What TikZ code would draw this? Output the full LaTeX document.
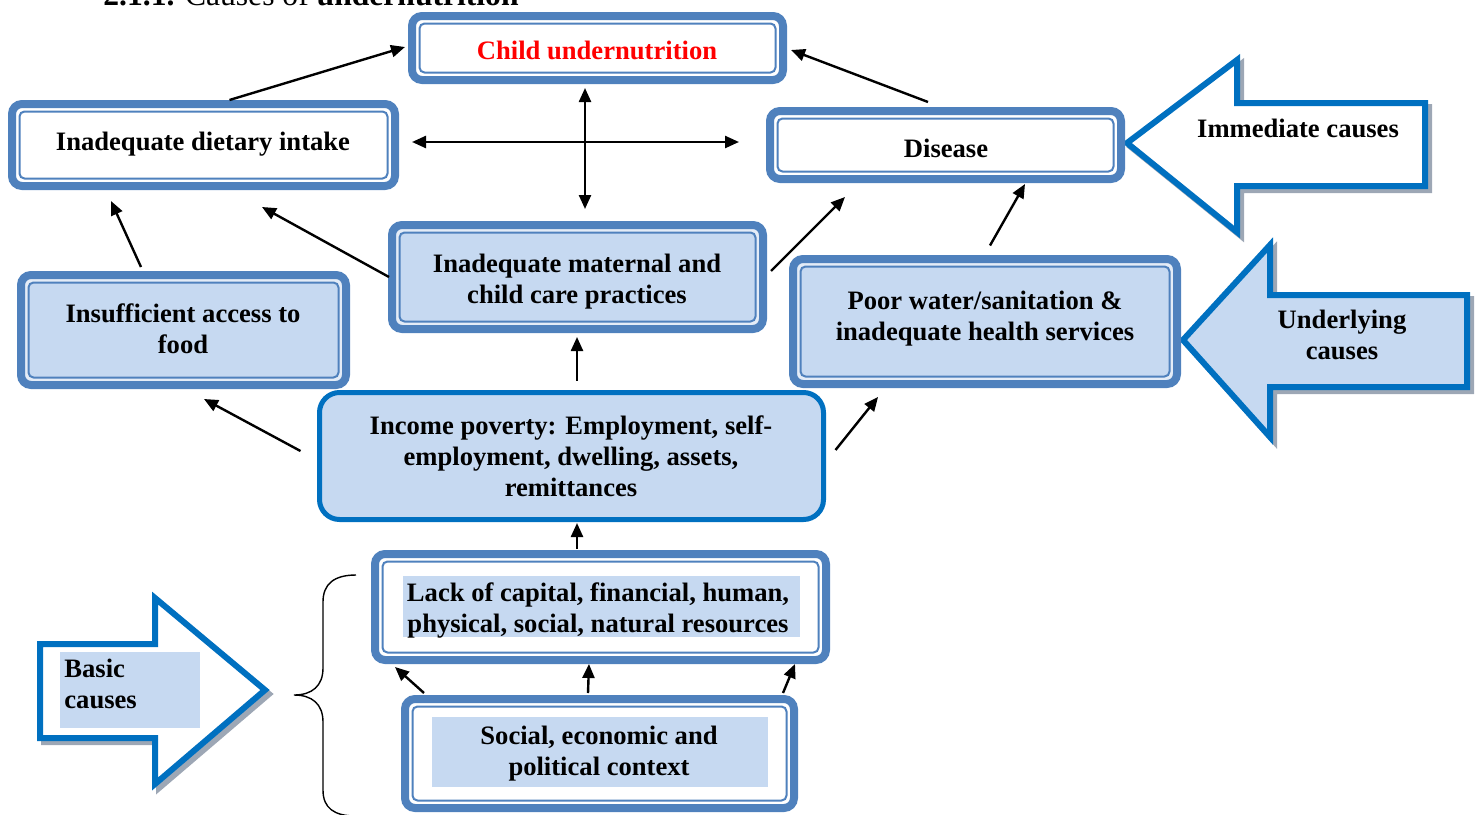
\documentclass[tikz,border=0pt]{standalone}
\usepackage{fontspec}
\setmainfont{Liberation Serif}
\usetikzlibrary{arrows.meta}
\definecolor{boxblue}{HTML}{4F81BD}
\definecolor{lightfill}{HTML}{C6D9F1}
\definecolor{palefill}{HTML}{E4ECF7}
\definecolor{arrowblue}{HTML}{0070C0}
\definecolor{shadowgrey}{HTML}{9DA7B5}
\definecolor{redtext}{HTML}{FF0000}
\begin{document}
\begin{tikzpicture}[x=0.5pt,y=-0.5pt,
  txt/.style={font=\bfseries\fontsize{13.3}{15.5}\selectfont, align=center, inner sep=0pt},
  dbox/.style={draw=boxblue, line width=4pt, rounded corners=5pt, inner sep=0pt},
  inframe/.style={draw=boxblue, line width=1pt, rounded corners=2.5pt, inner sep=0pt},
  arr/.style={line width=1.2pt, -{Triangle[length=7pt,width=6pt]}},
  darr/.style={line width=1.2pt, {Triangle[length=7pt,width=6pt]}-{Triangle[length=7pt,width=6pt]}},
  bigarrow/.style={draw=arrowblue, line width=3pt, line join=miter},
  shadowline/.style={draw=shadowgrey, line width=3pt, line join=miter},
  hilite/.style={fill=lightfill, inner sep=0pt}
]
\useasboundingbox (0,0) rectangle (1477,814);

% heading (cut off at the top of the picture)
\node[anchor=base west, inner sep=0pt, font=\fontsize{15.8}{18}\selectfont] (hdr) at (103,5)
  {\textbf{2.1.1.} Causes of \textbf{undernutrition}};

% big block arrows
\draw[shadowline] (1131,147) -- (1241,64) -- (1241,107) -- (1429,107) -- (1429,190) -- (1241,190) -- (1241,236) -- cycle;
\draw[bigarrow, fill=white] (1127,143) -- (1237,60) -- (1237,103) -- (1425,103) -- (1425,186) -- (1237,186) -- (1237,232) -- cycle;
\node[txt] (imm) at (1298,128) {Immediate causes};

\draw[shadowline] (1187,344) -- (1274,249) -- (1274,299) -- (1471,299) -- (1471,391) -- (1274,391) -- (1274,441) -- cycle;
\draw[bigarrow, fill=lightfill] (1183,340) -- (1270,245) -- (1270,295) -- (1467,295) -- (1467,387) -- (1270,387) -- (1270,437) -- cycle;
\node[txt] (und) at (1342,335) {Underlying\\causes};

\draw[shadowline] (269,694) -- (159,602) -- (159,648) -- (44,648) -- (44,742) -- (159,742) -- (159,788) -- cycle;
\draw[bigarrow, fill=white] (265,690) -- (155,598) -- (155,644) -- (40,644) -- (40,738) -- (155,738) -- (155,784) -- cycle;
\node[hilite, minimum width=70pt, minimum height=38pt] (basbg) at (130,690) {};
\node[txt, align=left, anchor=west] (bas) at (64,684) {Basic\\causes};

% brace
\draw[line width=0.7pt] (356,575) .. controls (334,575) and (323,584) .. (323,602) -- (323,668)
  .. controls (323,686) and (312,695) .. (294,695)
  .. controls (312,695) and (323,704) .. (323,722) -- (323,790)
  .. controls (323,808) and (334,816) .. (356,816);

% boxes: thick outer frame
\node[dbox, fill=white, minimum width=185.5pt, minimum height=32pt] (cu) at (597.5,48) {};
\node[dbox, fill=white, minimum width=191.5pt, minimum height=41pt] (di) at (203.5,145) {};
\node[dbox, fill=white, minimum width=175.5pt, minimum height=34pt] (ds) at (945.5,145) {};
\node[dbox, fill=palefill, minimum width=185.5pt, minimum height=52pt] (mc) at (577.5,277) {};
\node[dbox, fill=palefill, minimum width=162.5pt, minimum height=55pt] (ia) at (183.5,330) {};
\node[dbox, fill=palefill, minimum width=192pt, minimum height=62.5pt] (pw) at (985,321.5) {};
\node[draw=arrowblue, line width=2.5pt, rounded corners=10pt, fill=lightfill, inner sep=0pt,
      minimum width=252pt, minimum height=63.5pt] (ip) at (571.5,456) {};
\node[dbox, fill=white, minimum width=225.5pt, minimum height=53pt] (lc) at (600.5,607) {};
\node[dbox, fill=white, minimum width=194.5pt, minimum height=54.5pt] (se) at (599.5,753.5) {};

% boxes: thin inner frame
\node[inframe, minimum width=178pt, minimum height=24.5pt] (cuin) at (cu.center) {};
\node[inframe, minimum width=184pt, minimum height=33.5pt] (diin) at (di.center) {};
\node[inframe, minimum width=168pt, minimum height=26.5pt] (dsin) at (ds.center) {};
\node[inframe, fill=lightfill, minimum width=178pt, minimum height=44.5pt] (mcin) at (mc.center) {};
\node[inframe, fill=lightfill, minimum width=155pt, minimum height=47.5pt] (iain) at (ia.center) {};
\node[inframe, fill=lightfill, minimum width=184.5pt, minimum height=55pt] (pwin) at (pw.center) {};
\node[inframe, minimum width=218pt, minimum height=45.5pt] (lcin) at (lc.center) {};
\node[inframe, minimum width=187pt, minimum height=47pt] (sein) at (se.center) {};

% texts
\node[txt, text=redtext] (cut) at (597,50) {Child undernutrition};
\node[txt] (dit) at (203,144) {Inadequate dietary intake};
\node[txt] (dst) at (946,148) {Disease};
\node[txt] (mct) at (577,282) {Inadequate maternal and\\child care practices};
\node[txt] (iat) at (183,329) {Insufficient access to\\food};
\node[txt] (pwt) at (985,319) {Poor water/sanitation \&\\inadequate health services};
\node[txt] (ipt) at (571,456) {Income poverty: Employment, self-\\employment, dwelling, assets,\\remittances};
\node[hilite, minimum width=198.5pt, minimum height=30.5pt] (lcbg) at (601.5,606.5) {};
\node[txt] (lct) at (598,610.5) {Lack of capital, financial, human,\\physical, social, natural resources};
\node[hilite, minimum width=168pt, minimum height=35pt] (sebg) at (600,752) {};
\node[txt] (set) at (599,754) {Social, economic and\\political context};

% connectors
\draw[arr] ([shift={(26,0)}]di.north) -- ([shift={(-3,-1)}]cu.west);
\draw[arr] ([shift={(-17.5,-5)}]ds.north) -- ([shift={(4,2)}]cu.east);
\draw[darr] ([shift={(-12.5,4)}]cu.south) -- ([shift={(7.5,-12)}]mc.north);
\draw[darr] ([shift={(13,-3)}]di.east) -- ([shift={(-27,-3)}]ds.west);
\draw[arr] ([shift={(-42.5,-4)}]ia.north) -- ([shift={(-92.5,11)}]di.south);
\draw[arr] ([shift={(1,0)}]mc.west) -- ([shift={(58.5,17)}]di.south);
\draw[arr] ([shift={(4,-6)}]mc.east) -- ([shift={(-100.5,14)}]ds.south);
\draw[arr] ([shift={(5,-9.5)}]pw.north) -- ([shift={(79.5,1)}]ds.south);
\draw[arr] ([shift={(5.5,-9.5)}]ip.north) -- ([shift={(-0.5,4)}]mc.south);
\draw[arr] ([shift={(-16.5,-5)}]ip.west) -- ([shift={(20.5,10)}]ia.south);
\draw[arr] ([shift={(9.5,-6)}]ip.east) -- ([shift={(-107,9)}]pw.south);
\draw[arr] ([shift={(-23.5,-1)}]lc.north) -- ([shift={(5.5,1)}]ip.south);
\draw[arr] ([shift={(-175.5,-2)}]se.north) -- ([shift={(-205.5,3)}]lc.south);
\draw[arr] ([shift={(-11.5,-2)}]se.north) -- ([shift={(-11.5,0)}]lc.south);
\draw[arr] ([shift={(183.5,-2)}]se.north) -- ([shift={(194.5,0)}]lc.south);
\end{tikzpicture}
\end{document}
